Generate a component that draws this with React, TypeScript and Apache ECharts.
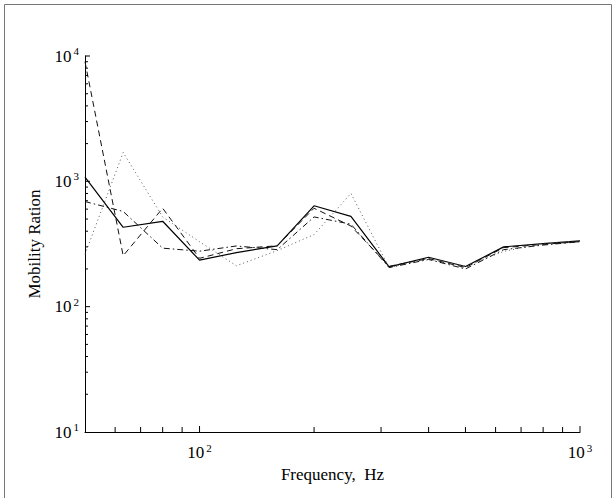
import React, { useEffect, useRef } from "react";
import * as echarts from "echarts";

const freqs = [50, 63, 80, 100, 125, 160, 200, 250, 315, 400, 500, 630, 800, 1000];
const solidVals = [1080, 430, 480, 235, 270, 306, 638, 525, 208, 248, 209, 300, 318, 335];
const dashedVals = [9000, 255, 610, 243, 290, 306, 610, 440, 210, 242, 205, 296, 314, 330];
const dottedVals = [262, 1700, 520, 330, 212, 280, 376, 800, 205, 244, 210, 276, 320, 335];
const dashDotVals = [690, 575, 293, 277, 305, 285, 520, 455, 205, 238, 200, 285, 310, 330];

const xTickVals = [60, 70, 80, 90, 100, 200, 300, 400, 500, 600, 700, 800, 900, 1000];
const yTickVals = [
  20, 30, 40, 50, 60, 70, 80, 90, 100,
  200, 300, 400, 500, 600, 700, 800, 900, 1000,
  2000, 3000, 4000, 5000, 6000, 7000, 8000, 9000, 10000,
];
const xMin = 50;
const xMax = 1000;
const yMin = 10;
const yMax = 10000;

const FONT = "Liberation Serif";

function decadeLabel(v: number): string {
  const e = Math.log10(v);
  if (Math.abs(e - Math.round(e)) > 1e-6) return "";
  return "{b|10}{s|" + Math.round(e) + "}";
}

export default function App() {
  const ref = useRef<HTMLDivElement>(null);
  useEffect(() => {
    document.body.style.margin = "0";
    if (!ref.current) return;
    const chart = echarts.init(ref.current, undefined, { renderer: "svg" });
    const rich = {
      b: { fontFamily: FONT, fontSize: 17, color: "#000" },
      s: { fontFamily: FONT, fontSize: 11, color: "#000", verticalAlign: "bottom", padding: [0, 0, 10, 2] },
    };
    const mk = (name: string, vals: number[], type: any, color: string, width: number) => ({
      name,
      type: "line",
      data: freqs.map((f, i) => [f, vals[i]]),
      showSymbol: false,
      symbol: "none",
      lineStyle: { color, width, type },
      z: 3,
    });
    chart.setOption({
      animation: false,
      backgroundColor: "#fff",
      grid: { left: 85, right: 36, top: 56, bottom: 66 },
      xAxis: {
        type: "log",
        logBase: 10,
        min: xMin,
        max: xMax,
        name: "Frequency,  Hz",
        nameLocation: "middle",
        nameGap: 27,
        nameTextStyle: { fontFamily: FONT, fontSize: 17, color: "#000" },
        axisLine: { lineStyle: { color: "#000", width: 1 } },
        axisTick: { show: false },
        splitLine: { show: false },
        axisLabel: {
          formatter: (v: number) => decadeLabel(v),
          rich,
          margin: 10,
          showMinLabel: true,
          showMaxLabel: true,
        },
      },
      yAxis: {
        type: "log",
        logBase: 10,
        min: yMin,
        max: yMax,
        name: "Mobility Ration",
        nameLocation: "middle",
        nameGap: 42,
        nameTextStyle: { fontFamily: FONT, fontSize: 17, color: "#000" },
        axisLine: { lineStyle: { color: "#000", width: 1 } },
        axisTick: { show: false },
        splitLine: { show: false },
        axisLabel: {
          formatter: (v: number) => decadeLabel(v),
          rich,
          margin: 6,
        },
      },
      graphic: [
        {
          type: "rect",
          shape: { x: 4.5, y: 4.5, width: 607, height: 510 },
          style: { fill: "none", stroke: "#777", lineWidth: 1 },
          silent: true,
        },
      ],
      series: [
        mk("solid", solidVals, "solid", "#000", 1.2),
        mk("dashed", dashedVals, [6, 4], "#111", 1),
        mk("dotted", dottedVals, [1, 3], "#555", 1),
        mk("dashdot", dashDotVals, [6, 3, 1.5, 3], "#111", 1),
        {
          type: "custom",
          coordinateSystem: "cartesian2d",
          data: xTickVals.map((v) => [v, yMin]),
          renderItem: (params: any, api: any) => {
            const p = api.coord([api.value(0), api.value(1)]);
            const major = Math.abs(Math.log10(api.value(0)) % 1) < 1e-6;
            return {
              type: "line",
              shape: { x1: p[0], y1: p[1], x2: p[0], y2: p[1] - (major ? 6 : 5) },
              style: { stroke: "#000", lineWidth: 1 },
            };
          },
          silent: true,
          z: 4,
        },
        {
          type: "custom",
          coordinateSystem: "cartesian2d",
          data: yTickVals.map((v) => [xMin, v]),
          renderItem: (params: any, api: any) => {
            const p = api.coord([api.value(0), api.value(1)]);
            const major = Math.abs(Math.log10(api.value(1)) % 1) < 1e-6;
            return {
              type: "line",
              shape: { x1: p[0], y1: p[1], x2: p[0] + (major ? 5 : 3), y2: p[1] },
              style: { stroke: "#000", lineWidth: 1 },
            };
          },
          silent: true,
          z: 4,
        },
      ],
    });
    return () => chart.dispose();
  }, []);
  return <div ref={ref} style={{ width: 616, height: 498 }} />;
}
